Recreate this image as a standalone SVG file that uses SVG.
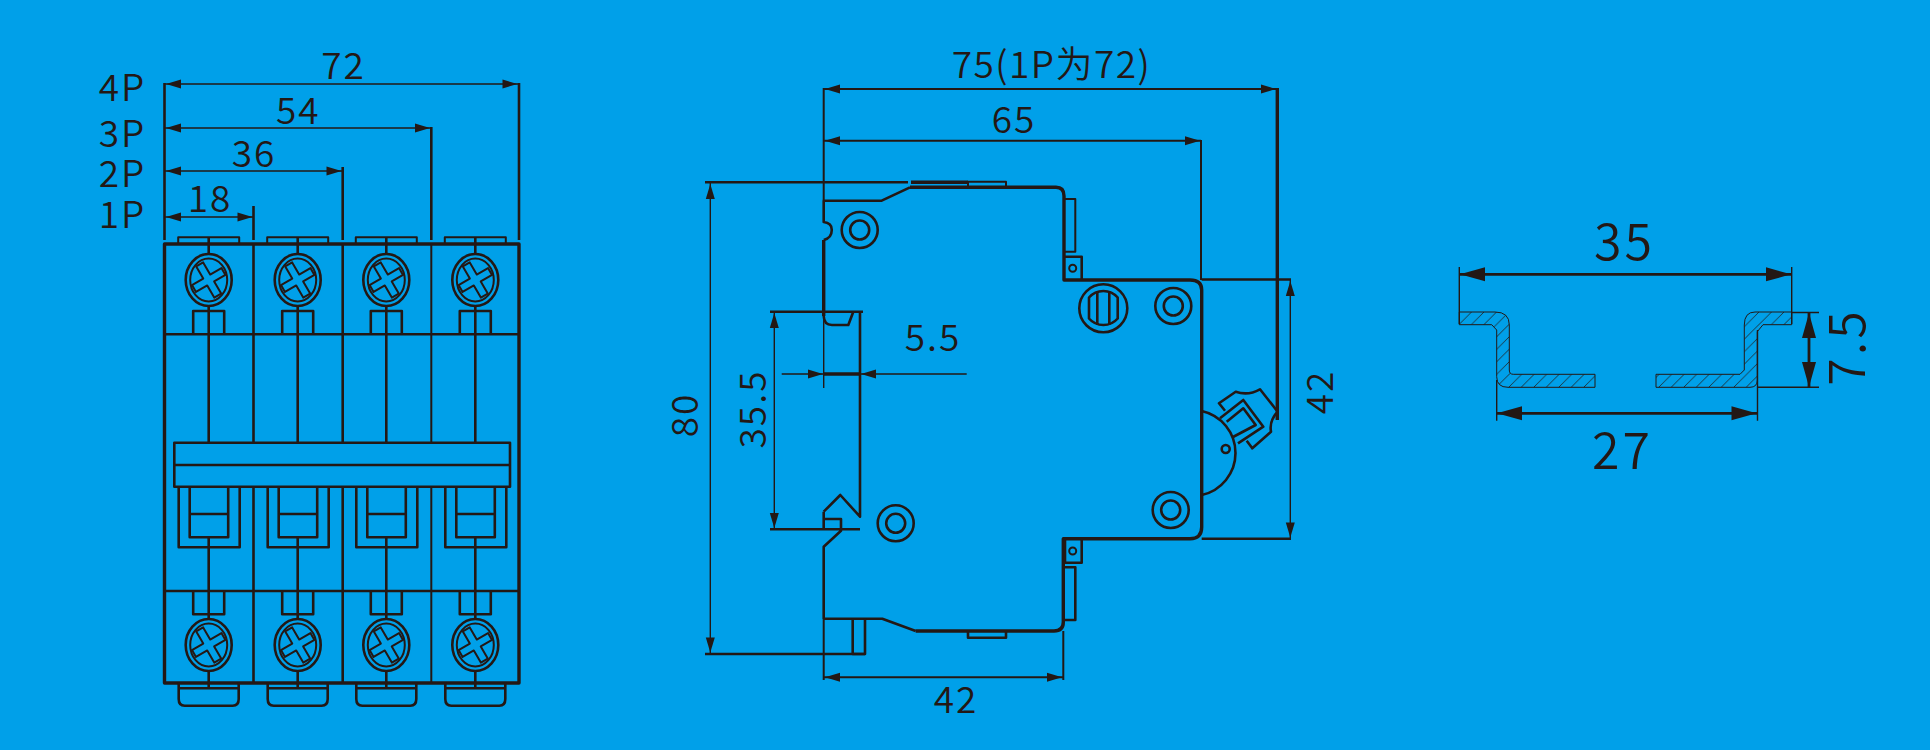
<svg xmlns="http://www.w3.org/2000/svg" width="1930" height="750" viewBox="0 0 1930 750">
<style>
.l{fill:none;stroke:#231815;stroke-width:2;stroke-linejoin:round}
.m{fill:none;stroke:#231815;stroke-width:2.6;stroke-linejoin:round}
.h{fill:none;stroke:#231815;stroke-width:3.4;stroke-linejoin:round}
.t{fill:none;stroke:#231815;stroke-width:1.4}
.a{fill:#231815;stroke:none}
text{fill:#231815;font-family:"Noto Sans CJK SC","Noto Sans",sans-serif;font-weight:350}
.s{font-size:37px;letter-spacing:2px;text-anchor:middle}
.c{letter-spacing:1.5px}
.b{font-size:50px;letter-spacing:3px;text-anchor:middle}
</style>
<defs>
<path id="ar" class="a" d="M0 0L15 -4.500L15 4.500Z"/>
<path id="arb" class="a" d="M0 0L25 -7L25 7Z"/>
<g id="screw">
<ellipse class="m" rx="23" ry="26"/>
<ellipse class="l" rx="18.500" ry="21.500"/>
<g transform="rotate(-30)">
<path class="l" d="M-4 -4L-17 -4L-17 4L-4 4L-4 18L4 18L4 4L17 4L17 -4L4 -4L4 -18L-4 -18Z"/>
</g>
</g>
<g id="pole">
<path class="l" d="M-30.500 0V-5.700H30.500V0"/>
<path class="m" d="M0 -5.700V11"/>
<path class="m" d="M-15.500 91.300V68H15.500V91.300"/>
<path class="m" d="M0 63V199.700"/>
<path class="m" d="M-30 243.700V304.300H31V243.700"/>
<path class="m" d="M-19 243.700V294.300H19.500V243.700M-19 271H19.500"/>
<path class="m" d="M0 294.300V376M0 428V445.300"/>
<path class="m" d="M-15.500 348V371.300H15.500V348"/>
<path class="m" d="M-30 439.700V456Q-30 462.700 -24 462.700H24Q30 462.700 30 456V439.700M-30 445.300H30"/>
</g>
<pattern id="hatch" width="12.500" height="12.500" patternUnits="userSpaceOnUse" patternTransform="translate(1459 312)">
<path d="M-1 13.500L13.500 -1M-1 1L1 -1M11.500 13.500L13.500 11.500" stroke="#231815" stroke-width="0.800" fill="none"/>
</pattern>
</defs>
<rect width="1930" height="750" fill="#00a0e9"/>

<g id="front-view">
<path class="h" d="M164.500 244H519V683H164.500Z"/>
<path class="m" d="M164.500 83V240M519 83V240M253.500 206V240M342.700 167V240M431.300 127V240"/>
<path class="m" d="M253.500 244V683M342.700 244V683"/>
<path class="l" d="M431.300 244V683"/>
<path class="m" d="M164.500 334.300H519M164.500 591H519"/>
<use href="#pole" transform="translate(208.700 243)"/>
<use href="#pole" transform="translate(297.700 243)"/>
<use href="#pole" transform="translate(386.300 243)"/>
<use href="#pole" transform="translate(475.300 243)"/>
<use href="#screw" transform="translate(208.700 280)"/>
<use href="#screw" transform="translate(297.700 280)"/>
<use href="#screw" transform="translate(386.300 280)"/>
<use href="#screw" transform="translate(475.300 280)"/>
<use href="#screw" transform="translate(208.700 645)"/>
<use href="#screw" transform="translate(297.700 645)"/>
<use href="#screw" transform="translate(386.300 645)"/>
<use href="#screw" transform="translate(475.300 645)"/>
<rect class="m" x="174.300" y="442.700" width="335.700" height="44" style="fill:#00a0e9"/>
<path class="m" d="M174.300 465H510"/>
</g>

<g id="side-view">
<path class="h" d="M910 187.300H1056Q1064 187.300 1064 196V280H1190Q1201.700 280 1201.700 290V527Q1201.700 538.700 1190 538.700H1063.300V622Q1063.300 631 1054 631H915.700"/>
<path class="m" d="M915.700 631L882.300 618.700H823.700V546.700L841 530.700V519H823.700M823.700 511.700L840.300 495L860 516.700V311.700M823.700 530V511.700M770 529.300H860"/>
<path class="h" d="M823.700 316V240"/>
<path class="m" d="M823.700 240Q832 238 831.700 230Q832 223 823.700 222V200.700H881.700L910 187.300M770 311.700H863M823.700 316Q824 325 832 325H848.300L853.300 311.700"/>
<path class="l" d="M968 187V181.700H1006V187M1065 199H1075.300V251.700H1065"/>
<path class="m" d="M1065 256.700H1081.700V280M1065 539V562.700H1081.700V539M1065 567.300H1075.300V620H1065M968 631V637.700H1006V631M852.700 618.700V654H865V618.700"/>
<circle class="l" cx="1072.700" cy="268.300" r="3.500"/>
<circle class="l" cx="1072.700" cy="551" r="3.500"/>
<g class="m">
<circle cx="859.700" cy="230" r="18"/><circle cx="859.700" cy="230" r="9.500"/>
<circle cx="895.700" cy="523.300" r="18"/><circle cx="895.700" cy="523.300" r="9.500"/>
<circle cx="1173.300" cy="306" r="18"/><circle cx="1173.300" cy="306" r="9.500"/>
<circle cx="1170.700" cy="510" r="18"/><circle cx="1170.700" cy="510" r="9.500"/>
<circle cx="1103.300" cy="308.300" r="24"/>
<path d="M1089 297.500A19 19 0 0 1 1117.700 297.500V318.500A19 19 0 0 1 1089 318.500Z"/>
<path d="M1097.300 291V325M1109.300 291V325"/>
</g>
<path class="m" d="M1201.700 411A43 43 0 0 1 1201.700 495"/>
<circle class="m" cx="1225.700" cy="449" r="4"/>
<path class="m" d="M1225 410.700L1219 403.300L1235.700 391.700Q1248 396 1260 389.300L1277.700 411.700Q1269 421 1271 431.700L1252.300 448.300L1246.700 440.700M1220 418.300L1243.300 400L1263.300 426.700L1238 443.300M1226.700 421.700L1243.300 408.300L1255.700 425L1233 437"/>
</g>

<g id="rail">
<path fill="url(#hatch)" stroke="#231815" stroke-width="1" d="M1459.300 312H1495Q1509.300 312 1509.300 325V370Q1509.300 374.300 1513.300 374.300H1595V387.300H1508Q1496.700 387.300 1496.700 376.700V330L1491.700 324.700H1459.300Z"/>
<path fill="url(#hatch)" stroke="#231815" stroke-width="1" d="M1791.700 312H1755Q1744.300 312 1744.300 325V370L1740 374.300H1656V387.300H1750Q1757.300 387.300 1757.300 380V331.700L1763 324.700H1791.700Z"/>
</g>

<g id="dimensions">
<path class="t" d="M164.500 84H519M164.500 128H431M164.500 171H342M164.500 217H253"/>
<use href="#ar" transform="translate(166 84)"/><use href="#ar" transform="translate(517.500 84) rotate(180)"/>
<use href="#ar" transform="translate(166 128)"/><use href="#ar" transform="translate(430 128) rotate(180)"/>
<use href="#ar" transform="translate(166 171)"/><use href="#ar" transform="translate(341.500 171) rotate(180)"/>
<use href="#ar" transform="translate(166 217)"/><use href="#ar" transform="translate(252.500 217) rotate(180)"/>
<path class="l" d="M823.700 88V200M823.700 620V680M1063.300 631V680M1201 140V280"/>
<path class="l" d="M823.700 89H1277.300M823.700 140.700H1201M823.700 677.300H1063.300"/>
<path class="h" d="M1277.300 88V420"/>
<path class="t" d="M823.700 240V388"/>
<path class="m" d="M705 182.300H908M705 654H865"/>
<path class="h" d="M911 182.300H968"/>
<path class="t" d="M710.300 182V654M774.300 312V529M781.700 374H823M861 374H966.700M1290.300 280V538.700"/>
<path class="h" d="M824 374H860"/>
<path class="m" d="M1201.700 279.500H1291M1201.700 538.700H1291"/>
<use href="#ar" transform="translate(825 89)"/><use href="#ar" transform="translate(1276 89) rotate(180)"/>
<use href="#ar" transform="translate(825 140.700)"/><use href="#ar" transform="translate(1200 140.700) rotate(180)"/>
<use href="#ar" transform="translate(825 677.300)"/><use href="#ar" transform="translate(1062 677.300) rotate(180)"/>
<use href="#ar" transform="translate(710.300 184) rotate(90)"/><use href="#ar" transform="translate(710.300 652.500) rotate(-90)"/>
<use href="#ar" transform="translate(774.300 313) rotate(90)"/><use href="#ar" transform="translate(774.300 528) rotate(-90)"/>
<use href="#ar" transform="translate(823 374) rotate(180)"/><use href="#ar" transform="translate(861 374)"/>
<use href="#ar" transform="translate(1290.300 281) rotate(90)"/><use href="#ar" transform="translate(1290.300 537.500) rotate(-90)"/>
<path class="t" d="M1459.300 267V324M1791.700 267V324M1791.700 312.500H1819M1757 387.300H1819M1496.700 380V420.700M1757.500 330V420.700"/>
<path class="h" d="M1459.300 274.300H1791.700M1497 413.300H1757M1809 312.500V387.300" style="stroke-width:2.800"/>
<use href="#arb" transform="translate(1460 274.300)"/><use href="#arb" transform="translate(1791 274.300) rotate(180)"/>
<use href="#arb" transform="translate(1497 413.300)"/><use href="#arb" transform="translate(1756.500 413.300) rotate(180)"/>
<use href="#arb" transform="translate(1809 313) rotate(90)"/><use href="#arb" transform="translate(1809 387) rotate(-90)"/>
</g>

<g id="labels">
<text class="s" x="122.500" y="101">4P</text>
<text class="s" x="122.500" y="146.700">3P</text>
<text class="s" x="122.500" y="186.700">2P</text>
<text class="s" x="122.500" y="228">1P</text>
<text class="s" x="343.500" y="79">72</text>
<text class="s" x="298.300" y="124">54</text>
<text class="s" x="254" y="166.700">36</text>
<text class="s" x="210" y="211.700">18</text>
<text class="s c" x="1051.500" y="78.300">75(1P为72)</text>
<text class="s" x="1014" y="133.300">65</text>
<text class="s" x="933" y="350.700">5.5</text>
<text class="s" x="956" y="713">42</text>
<text class="s" transform="translate(698 415) rotate(-90)">80</text>
<text class="s" transform="translate(766 409) rotate(-90)">35.5</text>
<text class="s" transform="translate(1333.300 392) rotate(-90)">42</text>
<text class="b" x="1624.500" y="260">35</text>
<text class="b" x="1622.500" y="469">27</text>
<text class="b" transform="translate(1865 347) rotate(-90)">7.5</text>
</g>
</svg>
